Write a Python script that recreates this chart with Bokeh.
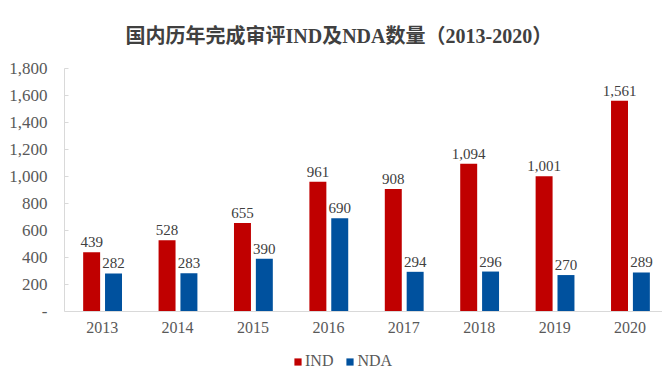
from bokeh.plotting import figure
from bokeh.models import ColumnDataSource, Legend, LegendItem, FixedTicker, Range1d, Span
from bokeh.embed import file_html
from bokeh.resources import INLINE
from bokeh.core.properties import value

years = ["2013", "2014", "2015", "2016", "2017", "2018", "2019", "2020"]
ind = [439, 528, 655, 961, 908, 1094, 1001, 1561]
nda = [282, 283, 390, 690, 294, 296, 270, 289]
y_ticks = [0, 200, 400, 600, 800, 1000, 1200, 1400, 1600, 1800]

RED = "#C00000"
BLUE = "#00519E"
SERIF = "Liberation Serif, Noto Sans CJK SC"

xs = list(range(len(years)))
src = ColumnDataSource(dict(
    x=xs,
    zero=[0] * len(xs),
    year=years,
    x_ind=[x - 0.14 for x in xs],
    x_nda=[x + 0.15 for x in xs],
    ind=ind, nda=nda,
    ind_lbl=[f"{v:,}" for v in ind],
    nda_lbl=[f"{v:,}" for v in nda],
))

# frame spans the whole lower area so the legend can sit below the baseline
p = figure(width=662, height=369, output_backend="svg", toolbar_location=None,
           x_range=Range1d(-0.5, 7.43), y_range=Range1d(-429.6, 1800),
           x_axis_location=None,
           min_border_left=64, min_border_right=0, min_border_top=68,
           min_border_bottom=0, tools="")

p.title.text = "国内历年完成审评IND及NDA数量（2013-2020）"
p.title.text_font = SERIF
p.title.text_font_size = "20px"
p.title.text_font_style = "bold"
p.title.text_color = "#404040"
p.title.align = "left"
p.title.offset = 61
p.title.standoff = 43

r1 = p.vbar(x="x_ind", top="ind", width=0.225, source=src, fill_color=RED, line_color=None)
r2 = p.vbar(x="x_nda", top="nda", width=0.225, source=src, fill_color=BLUE, line_color=None)

# baseline (category axis)
p.add_layout(Span(location=0, dimension="width", line_color="#D9D9D9", line_width=1))

# category labels
p.text(x="x", y="zero", text="year", source=src, text_align="center",
       text_baseline="top", y_offset=10, text_font=value("Liberation Serif"),
       text_font_size="16px", text_color="#595959")

for xcol, ycol, lcol in [("x_ind", "ind", "ind_lbl"), ("x_nda", "nda", "nda_lbl")]:
    p.text(x=xcol, y=ycol, text=lcol, source=src, text_align="center",
           text_baseline="bottom", y_offset=-5, text_font=value("Liberation Serif"),
           text_font_size="15px", text_color="#404040")

p.xgrid.visible = False
p.ygrid.visible = False
p.outline_line_color = None

p.yaxis.ticker = FixedTicker(ticks=y_ticks)
p.yaxis.bounds = (0, 1800)
p.yaxis.major_label_overrides = {t: ("-" if t == 0 else f"{t:,}") for t in y_ticks}
p.yaxis.minor_tick_line_color = None
p.yaxis.major_tick_in = 4
p.yaxis.major_tick_out = 0
p.yaxis.major_tick_line_color = "#D9D9D9"
p.yaxis.axis_line_color = "#D9D9D9"
p.yaxis.major_label_standoff = 17
p.yaxis.major_label_text_font = "Liberation Serif"
p.yaxis.major_label_text_font_size = "17px"
p.yaxis.major_label_text_color = "#595959"

legend = Legend(items=[LegendItem(label="IND", renderers=[r1]),
                       LegendItem(label="NDA", renderers=[r2])],
                location=(229, -1), orientation="horizontal",
                glyph_width=9, glyph_height=9, label_standoff=3, spacing=12,
                label_height=12, label_text_baseline="middle",
                padding=0, margin=0, border_line_color=None,
                background_fill_alpha=0,
                label_text_font="Liberation Serif", label_text_font_size="16px",
                label_text_color="#595959")
p.add_layout(legend, "center")

open("out.html", "w").write(file_html(p, INLINE))
